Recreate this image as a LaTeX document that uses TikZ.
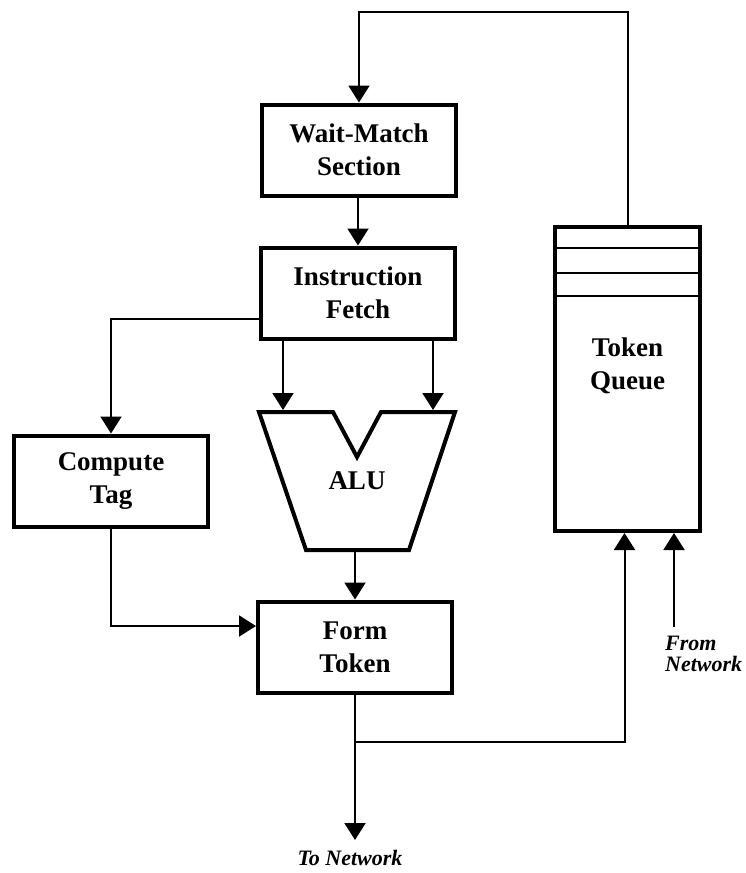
\documentclass[tikz,border=0pt]{standalone}
\usepackage{fontspec}
\setmainfont{Liberation Serif}
\usetikzlibrary{arrows.meta, calc}

\begin{document}
\begin{tikzpicture}[x=1pt, y=-1pt]

\tikzset{
  caja/.style={rectangle, draw=black, line width=4pt,
    minimum width=194pt, minimum height=91pt, inner sep=0pt,
    align=center, font=\fontsize{27}{33}\selectfont\bfseries},
  rotulo/.style={inner sep=0pt, align=left,
    font=\fontsize{22}{21}\selectfont\bfseries\itshape},
  arrow/.style={-{Triangle[width=21pt, length=17pt]}, line width=2pt}
}

\useasboundingbox (0,0) rectangle (745,873);

% ---- BLOCKS ----
\node (wait)  [caja] at (359,150) {Wait-Match\\Section};
\node (fetch) [caja] at (358,293) {Instruction\\Fetch};
\node (tag)   [caja] at (111,481) {Compute\\Tag};
\node (form)  [caja] at (355,647) {Form\\Token};
\node (alu)   [caja, draw=none, minimum width=197pt, minimum height=138pt]
  at (357,481) {ALU};
\node (queue) [caja, minimum width=145pt, minimum height=304pt]
  at (627.5,379) {};
\node (qtext) [caja, draw=none, minimum width=0pt, minimum height=0pt]
  at (627.5,366) {Token\\Queue};

% ---- ALU OUTLINE ----
\draw[line width=4pt, line join=miter, shift={(alu.center)}]
  (-98,-69) -- (-24,-69) -- (0,-24) -- (24,-69) -- (98,-69)
  -- (52,69) -- (-51,69) -- cycle;

% ---- QUEUE SLOTS ----
\foreach \ry in {248,273,296}
  \draw[line width=2pt] (queue.west |- 0,\ry) -- (queue.east |- 0,\ry);

% ---- LABELS ----
\coordinate (top)  at (0,12);
\coordinate (out)  at (355,840);
\coordinate (split) at (355,742);
\coordinate (in)   at (674,627);
\node (tonet)   [rotulo] at (350,858) {To Network};
\node (fromnet) [rotulo, anchor=north west] at (665,636) {From\\Network};

% ---- ARROWS ----
\draw[arrow] (queue.north) -- (queue.north |- top) -| (wait.north);
\draw[arrow] (wait.south) -- (wait.south -| fetch.north) -- (fetch.north);
\draw[arrow] ([yshift=-26pt]fetch.west) -| (tag.north);
\draw[arrow] ([xshift=-75pt]fetch.south) -- ([xshift=-75pt]fetch.south |- alu.north);
\draw[arrow] ([xshift=75pt]fetch.south)  -- ([xshift=75pt]fetch.south |- alu.north);
\draw[arrow] (form.north |- alu.south) -- (form.north);
\draw[arrow] (tag.south) |- ([yshift=21pt]form.west);
\draw[arrow] (form.south) -- (out);
\draw[arrow] (split) -| ([xshift=-3pt]queue.south);
\draw[arrow] (in) -- (in |- queue.south);

\end{tikzpicture}
\end{document}
